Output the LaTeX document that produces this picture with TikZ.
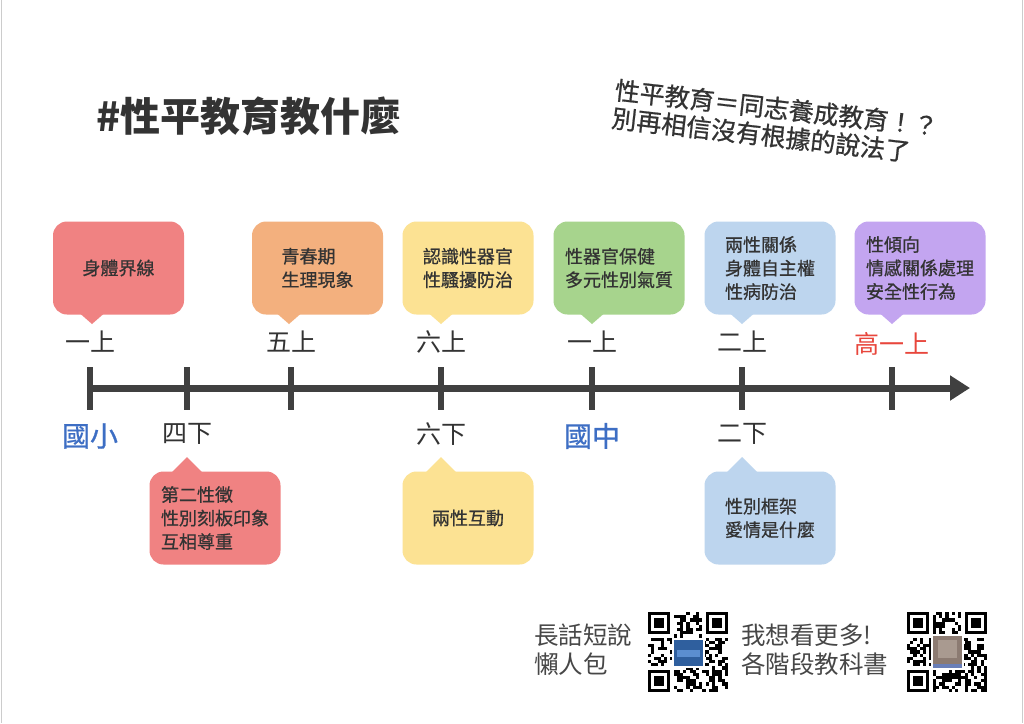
\documentclass[tikz,border=0pt]{standalone}
\usepackage{fontspec}
\newfontfamily\cjk{Noto Sans CJK TC}
\newfontfamily\cjkm[FakeBold=0.8]{Noto Sans CJK TC}
\usetikzlibrary{arrows.meta,calc}
\definecolor{cred}{HTML}{F08282}
\definecolor{corange}{HTML}{F3B07E}
\definecolor{cyellow}{HTML}{FCE293}
\definecolor{cgreen}{HTML}{A7D48D}
\definecolor{cblue}{HTML}{BDD5EE}
\definecolor{cpurple}{HTML}{C3A5F0}
\definecolor{txt}{HTML}{333333}
\definecolor{axisc}{HTML}{404040}
\definecolor{lblue}{HTML}{3D6EC4}
\definecolor{lred}{HTML}{E8463C}
\definecolor{qa}{HTML}{2F5F9E}
\definecolor{qb}{HTML}{5B8ED0}
\definecolor{qc}{HTML}{8C7B72}
\definecolor{qd}{HTML}{A99A90}
\definecolor{qe}{HTML}{6A7FB8}
\newcommand\myqr[2]{%
 \begin{scope}[shift={(#1,#2)}]
  \foreach \i in {0,...,24}{\foreach \j in {0,...,24}{%
    \pgfmathtruncatemacro\qsk{or(and(\i<8,\j<8),or(and(\i>16,\j<8),and(\i<8,\j>16)))}%
    \pgfmathtruncatemacro\qbit{rnd<0.5}%
    \ifnum\qsk=0 \ifnum\qbit=1 \fill[black] (\i*3.2,\j*3.2) rectangle ++(3.25,3.25); \fi\fi
  }}
  \foreach \a/\b in {0/0,57.6/0,0/57.6}{
    \fill[black] (\a,\b) rectangle ++(22.4,22.4);
    \fill[white] (\a+3.2,\b+3.2) rectangle ++(16,16);
    \fill[black] (\a+6.4,\b+6.4) rectangle ++(9.6,9.6);
  }
 \end{scope}}
\begin{document}
\begin{tikzpicture}[x=1pt,y=-1pt,
  callout/.style={rectangle, rounded corners=14pt, minimum width=131pt, minimum height=93pt,
     align=left, text=txt, font=\cjkm\fontsize{18}{23.5}\selectfont, inner sep=0pt},
  sem/.style={text=txt, font=\cjk\fontsize{25}{30}\selectfont, inner sep=0pt},
  school/.style={text=lblue, font=\cjkm\fontsize{28}{32}\selectfont, inner sep=0pt},
  tick/.style={line width=6pt, axisc},
  foot/.style={text=txt!90, align=left, font=\cjk\fontsize{24.5}{29}\selectfont, inner sep=0pt, anchor=west}
]
\pgfmathsetseed{12345}
\useasboundingbox (0,0) rectangle (1024,723);
\fill[white] (0,0) rectangle (1024,723);
\draw[gray!40, line width=1pt] (1,0) -- (1,723);
\draw[gray!40, line width=1pt] (1022,0) -- (1022,723);

% title
\node[anchor=west, text=txt, font=\cjk\bfseries\fontsize{40}{48}\selectfont, inner sep=0pt] (title) at (96,116) {\#性平教育教什麼};

% rotated slogan
\node[rotate=-6.5, align=left, text=txt, font=\cjkm\fontsize{25}{28}\selectfont, inner sep=0pt] (slogan) at (775,122)
  {性平教育＝同志養成教育！？\\別再相信沒有根據的說法了};

% axis
\coordinate (a0) at (90,388);
\coordinate (a1) at (970,388);
\draw[line width=7pt, axisc, -{Triangle[length=20pt,width=24pt]}] (a0) -- (a1);
\foreach \n/\x in {k1/90,k2/187,k3/291,k4/441,k5/592,k6/742,k7/892}{
  \coordinate (\n t) at (\x,367);
  \coordinate (\n b) at (\x,410);
  \draw[tick] (\n t) -- (\n b);
}

% labels above
\node[sem] (l1) at (90,342) {一上};
\node[sem] (l3) at (291,342) {五上};
\node[sem] (l4) at (441,342) {六上};
\node[sem] (l5) at (592,342) {一上};
\node[sem] (l6) at (742,342) {二上};
\node[sem, text=lred] (l7) at (892,344) {高一上};
% labels below
\node[school] (s1) at (90,436) {國小};
\node[sem] (l2) at (187,434) {四下};
\node[sem] (l4b) at (441,434) {六下};
\node[school] (s2) at (592,436) {國中};
\node[sem] (l6b) at (742,434) {二下};

% top callouts
\node[callout, fill=cred] (b1) at (118.5,268) {身體界線};
\node[callout, fill=corange] (b2) at (317.5,268) {青春期\\生理現象};
\node[callout, fill=cyellow] (b3) at (468,268) {認識性器官\\性騷擾防治};
\node[callout, fill=cgreen] (b4) at (619,268) {性器官保健\\多元性別氣質};
\node[callout, fill=cblue] (b5) at (770,268) {兩性關係\\身體自主權\\性病防治};
\node[callout, fill=cpurple] (b6) at (920,268) {性傾向\\情感關係處理\\安全性行為};
\foreach \t/\x/\c in {t1/92/cred,t2/289/corange,t3/441/cyellow,t4/592/cgreen,t5/742/cblue,t6/892/cpurple}{
  \coordinate (\t) at (\x,324);
  \fill[\c] ($(\t)+(-16,-14)$) -- (\t) -- ($(\t)+(16,-14)$) -- cycle;
}

% bottom callouts
\node[callout, fill=cred] (c1) at (215,518) {第二性徵\\性別刻板印象\\互相尊重};
\node[callout, fill=cyellow] (c2) at (468,518) {兩性互動};
\node[callout, fill=cblue] (c3) at (770,518) {性別框架\\愛情是什麼};
\foreach \t/\x/\c in {u1/187/cred,u2/441/cyellow,u3/742/cblue}{
  \coordinate (\t) at (\x,457);
  \fill[\c] ($(\t)+(-16,16)$) -- (\t) -- ($(\t)+(16,16)$) -- cycle;
}

% footer
\node[foot] (f1) at (534,650) {長話短說\\懶人包};
\node[foot] (f2) at (741,650) {我想看更多!\\各階段教科書};
\myqr{648}{612}
\myqr{907}{612}
\fill[white] (672,638) rectangle (705,668);
\fill[qa] (674,640) rectangle (703,666);
\fill[qb] (677,650) rectangle (700,657);
\fill[white] (931,634) rectangle (964,670);
\fill[qc] (933,636) rectangle (962,664);
\fill[qd] (938,640) rectangle (957,658);
\fill[qe] (933,664) rectangle (962,668);
\end{tikzpicture}
\end{document}
